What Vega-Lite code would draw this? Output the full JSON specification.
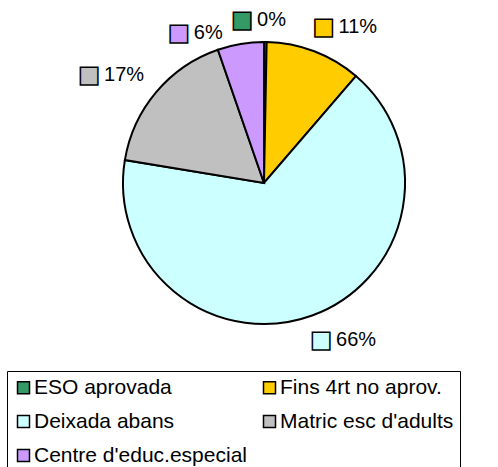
{
  "$schema": "https://vega.github.io/schema/vega-lite/v6.json",
  "autosize": "none",
  "padding": {"left": 30, "top": 0, "right": 0, "bottom": 101},
  "width": 468,
  "height": 366,
  "background": "white",
  "config": {"view": {"stroke": null}},
  "data": {
    "values": [
      {"idx": 1, "cat": "ESO aprovada", "value": 0.3, "label": "0%"},
      {"idx": 2, "cat": "Fins 4rt no aprov.", "value": 11.0, "label": "11%"},
      {"idx": 3, "cat": "Deixada abans", "value": 66.3, "label": "66%"},
      {"idx": 4, "cat": "Matric esc d'adults", "value": 17.1, "label": "17%"},
      {"idx": 5, "cat": "Centre d'educ.especial", "value": 5.3, "label": "6%"}
    ]
  },
  "encoding": {
    "theta": {"field": "value", "type": "quantitative", "stack": true},
    "order": {"field": "idx", "type": "quantitative"},
    "detail": {"field": "cat", "type": "nominal"},
    "color": {
      "field": "cat",
      "type": "nominal",
      "scale": {
        "domain": ["ESO aprovada", "Fins 4rt no aprov.", "Deixada abans", "Matric esc d'adults", "Centre d'educ.especial"],
        "range": ["#339966", "#FFCC00", "#CCFFFF", "#C0C0C0", "#CC99FF"]
      },
      "legend": {
        "orient": "none",
        "direction": "horizontal",
        "legendX": -23,
        "legendY": 371,
        "columns": 2,
        "title": null,
        "symbolType": "square",
        "symbolSize": 144,
        "symbolStrokeColor": "black",
        "symbolStrokeWidth": 1.5,
        "labelFont": "Liberation Sans",
        "labelFontSize": 21,
        "labelColor": "black",
        "labelLimit": 400,
        "labelOffset": 0,
        "strokeColor": "black",
        "padding": 6,
        "rowPadding": 12,
        "columnPadding": 12
      }
    }
  },
  "layer": [
    {
      "mark": {"type": "arc", "outerRadius": 141, "stroke": "black", "strokeWidth": 2}
    },
    {
      "mark": {"type": "text", "radius": 167, "font": "DejaVu Sans", "fontSize": 23, "align": "right", "baseline": "middle", "dx": 11, "stroke": "black", "strokeWidth": 1.5},
      "encoding": {"text": {"condition": {"test": "datum.idx === 2 || datum.idx === 3", "value": "■"}, "value": ""}}
    },
    {
      "mark": {"type": "text", "radius": 167, "font": "Liberation Sans", "fontSize": 20, "align": "left", "baseline": "middle", "dx": 15},
      "encoding": {"text": {"condition": {"test": "datum.idx === 2 || datum.idx === 3", "field": "label"}, "value": ""}, "color": {"value": "black"}}
    },
    {
      "mark": {"type": "text", "radius": 163, "font": "DejaVu Sans", "fontSize": 23, "align": "right", "baseline": "middle", "dx": -12.5, "stroke": "black", "strokeWidth": 1.5},
      "encoding": {"text": {"condition": {"test": "datum.idx === 1", "value": "■"}, "value": ""}}
    },
    {
      "mark": {"type": "text", "radius": 163, "font": "Liberation Sans", "fontSize": 20, "align": "left", "baseline": "middle", "dx": -8.5},
      "encoding": {"text": {"condition": {"test": "datum.idx === 1", "field": "label"}, "value": ""}, "color": {"value": "black"}}
    },
    {
      "mark": {"type": "text", "radius": 168, "font": "DejaVu Sans", "fontSize": 23, "align": "right", "baseline": "middle", "dx": -35.5, "stroke": "black", "strokeWidth": 1.5},
      "encoding": {"text": {"condition": {"test": "datum.idx === 4", "value": "■"}, "value": ""}}
    },
    {
      "mark": {"type": "text", "radius": 168, "font": "Liberation Sans", "fontSize": 20, "align": "left", "baseline": "middle", "dx": -31.5},
      "encoding": {"text": {"condition": {"test": "datum.idx === 4", "field": "label"}, "value": ""}, "color": {"value": "black"}}
    },
    {
      "mark": {"type": "text", "radius": 152, "font": "DejaVu Sans", "fontSize": 23, "align": "right", "baseline": "middle", "dx": -49, "stroke": "black", "strokeWidth": 1.5},
      "encoding": {"text": {"condition": {"test": "datum.idx === 5", "value": "■"}, "value": ""}}
    },
    {
      "mark": {"type": "text", "radius": 152, "font": "Liberation Sans", "fontSize": 20, "align": "left", "baseline": "middle", "dx": -45},
      "encoding": {"text": {"condition": {"test": "datum.idx === 5", "field": "label"}, "value": ""}, "color": {"value": "black"}}
    }
  ]
}
